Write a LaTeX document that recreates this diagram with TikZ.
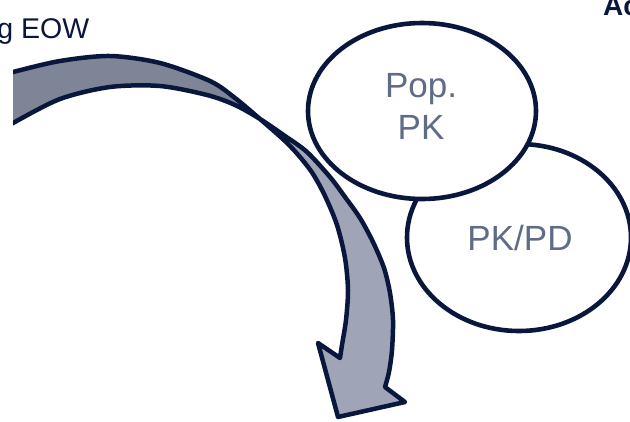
\documentclass[tikz,border=0pt]{standalone}
\usepackage{fontspec}
\setmainfont{Liberation Sans}
\usetikzlibrary{shapes.geometric}
\definecolor{navy}{RGB}{10,23,61}
\definecolor{backgray}{RGB}{126,133,151}
\definecolor{frontgray}{RGB}{159,164,183}
\definecolor{labelgray}{RGB}{95,107,135}
\begin{document}
\begin{tikzpicture}[x=1pt,y=-1pt,
  bubble/.style={ellipse, draw=navy, line width=4.6pt, fill=white, inner sep=0pt},
  bubbletext/.style={text=labelgray, font=\fontsize{35}{42}\selectfont, align=center, inner sep=0pt},
  outline/.style={draw=navy, line width=4.5pt, line join=round},
  cornertext/.style={text=navy, inner sep=0pt, anchor=base west}]
\useasboundingbox (0,0) rectangle (630,421);

% curved arrow
\path[save path=\arrowpath]
  plot[smooth] coordinates {(0,76) (13,72) (60,61) (110,56) (160,63) (210,81) (235,98) (260,119) (285,141) (300,157) (313,174) (325,196) (337,225) (345,258) (348,290) (346,320) (342,345) (340,358)}
  -- (318,343) -- (338,417) -- (405,402) -- (385,387)
  -- plot[smooth] coordinates {(385,387) (389,372) (392,350) (393,320) (390,293) (384,268) (373,242) (360,218) (345,197) (330,177) (307,152) (285,136) (260,119) (235,105) (207,95) (160,86) (110,87) (60,99) (13,123) (0,131)}
  -- cycle;
\begin{scope}
  \clip (13,-10) rectangle (640,430);
  \fill[frontgray, use path=\arrowpath];
  \begin{scope}
    \clip (0,0) rectangle (260,200);
    \fill[backgray, use path=\arrowpath];
  \end{scope}
  \draw[outline, use path=\arrowpath];
\end{scope}

% bubbles
\node[bubble, minimum width=224pt, minimum height=187pt] (pkpd) at (519,237.5) {};
\node[bubble, minimum width=228pt, minimum height=176pt] (pop) at (422,111) {};
\node[bubbletext] (poptext) at (421,106.5) {Pop.\\PK};
\node[bubbletext] (pkpdtext) at (520,237.5) {PK/PD};

% corner texts
\node[cornertext, font=\fontsize{28.5}{34}\selectfont] (eow) at (-2.8,38) {g EOW};
\node[cornertext, font=\bfseries\fontsize{28}{34}\selectfont] (ac) at (603,15) {Ac};
\end{tikzpicture}
\end{document}
